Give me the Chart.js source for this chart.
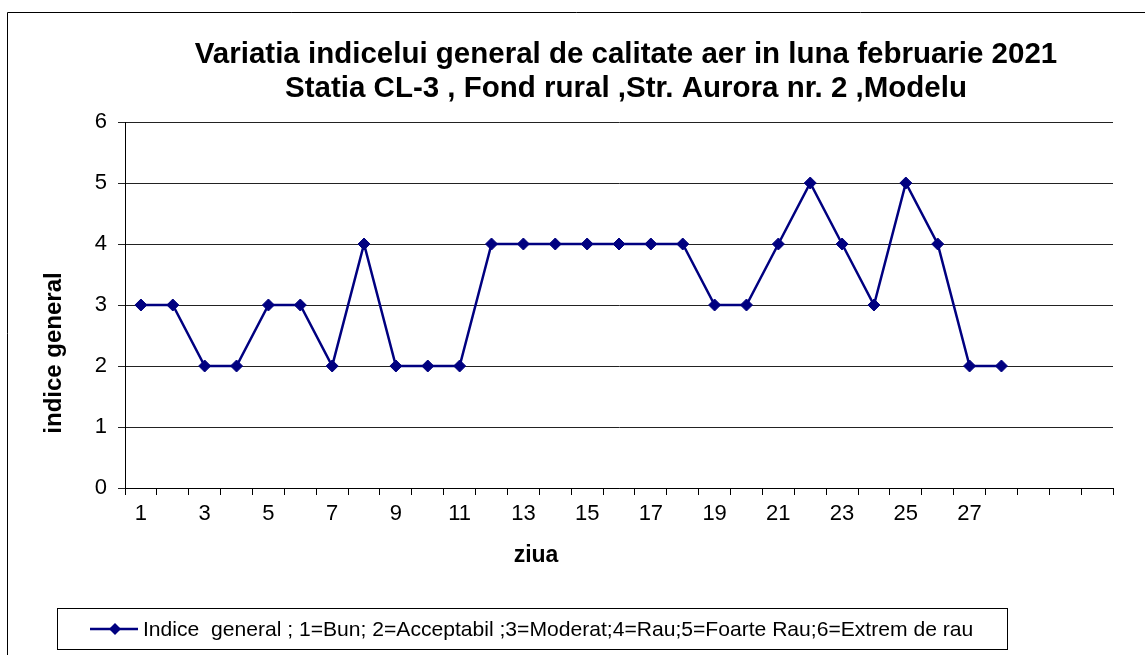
<!DOCTYPE html>
<html>
<head>
<meta charset="utf-8">
<script src="https://cdn.jsdelivr.net/npm/chart.js@4"></script>
<style>
  html, body { margin: 0; padding: 0; background: #fff; }
  #wrap { width: 1145px; height: 655px; position: relative; }
</style>
</head>
<body>
<div id="wrap"><canvas id="aqChart"></canvas></div>
<script>
// zilele lunii (1..28 cu date, 29..31 goale)
const days = ['1','2','3','4','5','6','7','8','9','10','11','12','13','14','15','16',
              '17','18','19','20','21','22','23','24','25','26','27','28','','',''];
const indiceGeneral = [3,3,2,2,3,3,2,4,2,2,2,4,4,4,4,4,4,4,3,3,4,5,4,3,5,4,2,2];
const titleLines = ['Variatia indicelui general de calitate aer in luna februarie 2021',
                    'Statia CL-3 , Fond rural ,Str. Aurora nr. 2 ,Modelu'];
const seriesName = 'Indice  general ; 1=Bun; 2=Acceptabil ;3=Moderat;4=Rau;5=Foarte Rau;6=Extrem de rau';
const yTitle = 'indice general';
const xTitle = 'ziua';

const FONT = '"Liberation Sans", Arial, sans-serif';
const NAVY = '#000080';

// titlu, titluri de axe, chenar si legenda
const decorPlugin = {
  id: 'decor',
  afterDraw(chart) {
    const ctx = chart.ctx;
    ctx.save();
    ctx.strokeStyle = '#000';
    ctx.lineWidth = 1;
    ctx.beginPath();
    ctx.moveTo(7.5, 655);
    ctx.lineTo(7.5, 12.5);
    ctx.lineTo(1145, 12.5);
    ctx.stroke();

    ctx.fillStyle = '#000';
    ctx.textAlign = 'center';
    ctx.textBaseline = 'alphabetic';
    ctx.font = 'bold 29.5px ' + FONT;
    ctx.fillText(titleLines[0], 626, 63);
    ctx.fillText(titleLines[1], 626, 97);

    ctx.font = 'bold 23px ' + FONT;
    ctx.textBaseline = 'middle';
    ctx.fillText(xTitle, 536, 556);
    ctx.font = 'bold 24px ' + FONT;
    ctx.save();
    ctx.translate(54, 353);
    ctx.rotate(-Math.PI / 2);
    ctx.fillText(yTitle, 0, 0);
    ctx.restore();

    // legenda
    ctx.strokeStyle = '#000';
    ctx.strokeRect(57.5, 608.5, 950, 41);
    ctx.strokeStyle = NAVY;
    ctx.lineWidth = 2.5;
    ctx.beginPath();
    ctx.moveTo(90, 629);
    ctx.lineTo(138, 629);
    ctx.stroke();
    ctx.fillStyle = NAVY;
    ctx.beginPath();
    ctx.moveTo(115, 623);
    ctx.lineTo(121, 629);
    ctx.lineTo(115, 635);
    ctx.lineTo(109, 629);
    ctx.closePath();
    ctx.fill();
    ctx.fillStyle = '#000';
    ctx.textAlign = 'left';
    ctx.font = '21.1px ' + FONT;
    ctx.fillText(seriesName, 143, 630);
    ctx.restore();
  }
};

new Chart(document.getElementById('aqChart'), {
  type: 'line',
  data: {
    labels: days,
    datasets: [{
      label: seriesName,
      data: indiceGeneral,
      borderColor: NAVY,
      backgroundColor: NAVY,
      borderWidth: 2.5,
      pointStyle: 'rectRot',
      pointRadius: 6,
      pointBorderWidth: 1,
      tension: 0
    }]
  },
  options: {
    responsive: true,
    maintainAspectRatio: false,
    animation: false,
    layout: { padding: { left: 0, right: 32, top: 122, bottom: 0 } },
    plugins: {
      legend: { display: false },
      tooltip: { enabled: false }
    },
    scales: {
      x: {
        type: 'category',
        offset: true,
        afterFit: (s) => { s.height = 167; },
        grid: { offset: true, drawOnChartArea: false, color: '#000', tickLength: 7 },
        border: { display: true, color: '#000' },
        ticks: {
          autoSkip: false,
          maxRotation: 0,
          padding: 6,
          color: '#000',
          font: { family: FONT, size: 22 },
          callback: function(value, index) {
            return index % 2 === 0 ? days[index] : '';
          }
        }
      },
      y: {
        min: 0,
        max: 6,
        afterFit: (s) => { s.width = 125; },
        grid: { color: '#222', tickLength: 7 },
        border: { display: true, color: '#000' },
        ticks: {
          stepSize: 1,
          padding: 11,
          color: '#000',
          font: { family: FONT, size: 22 }
        }
      }
    }
  },
  plugins: [decorPlugin]
});
</script>
</body>
</html>
